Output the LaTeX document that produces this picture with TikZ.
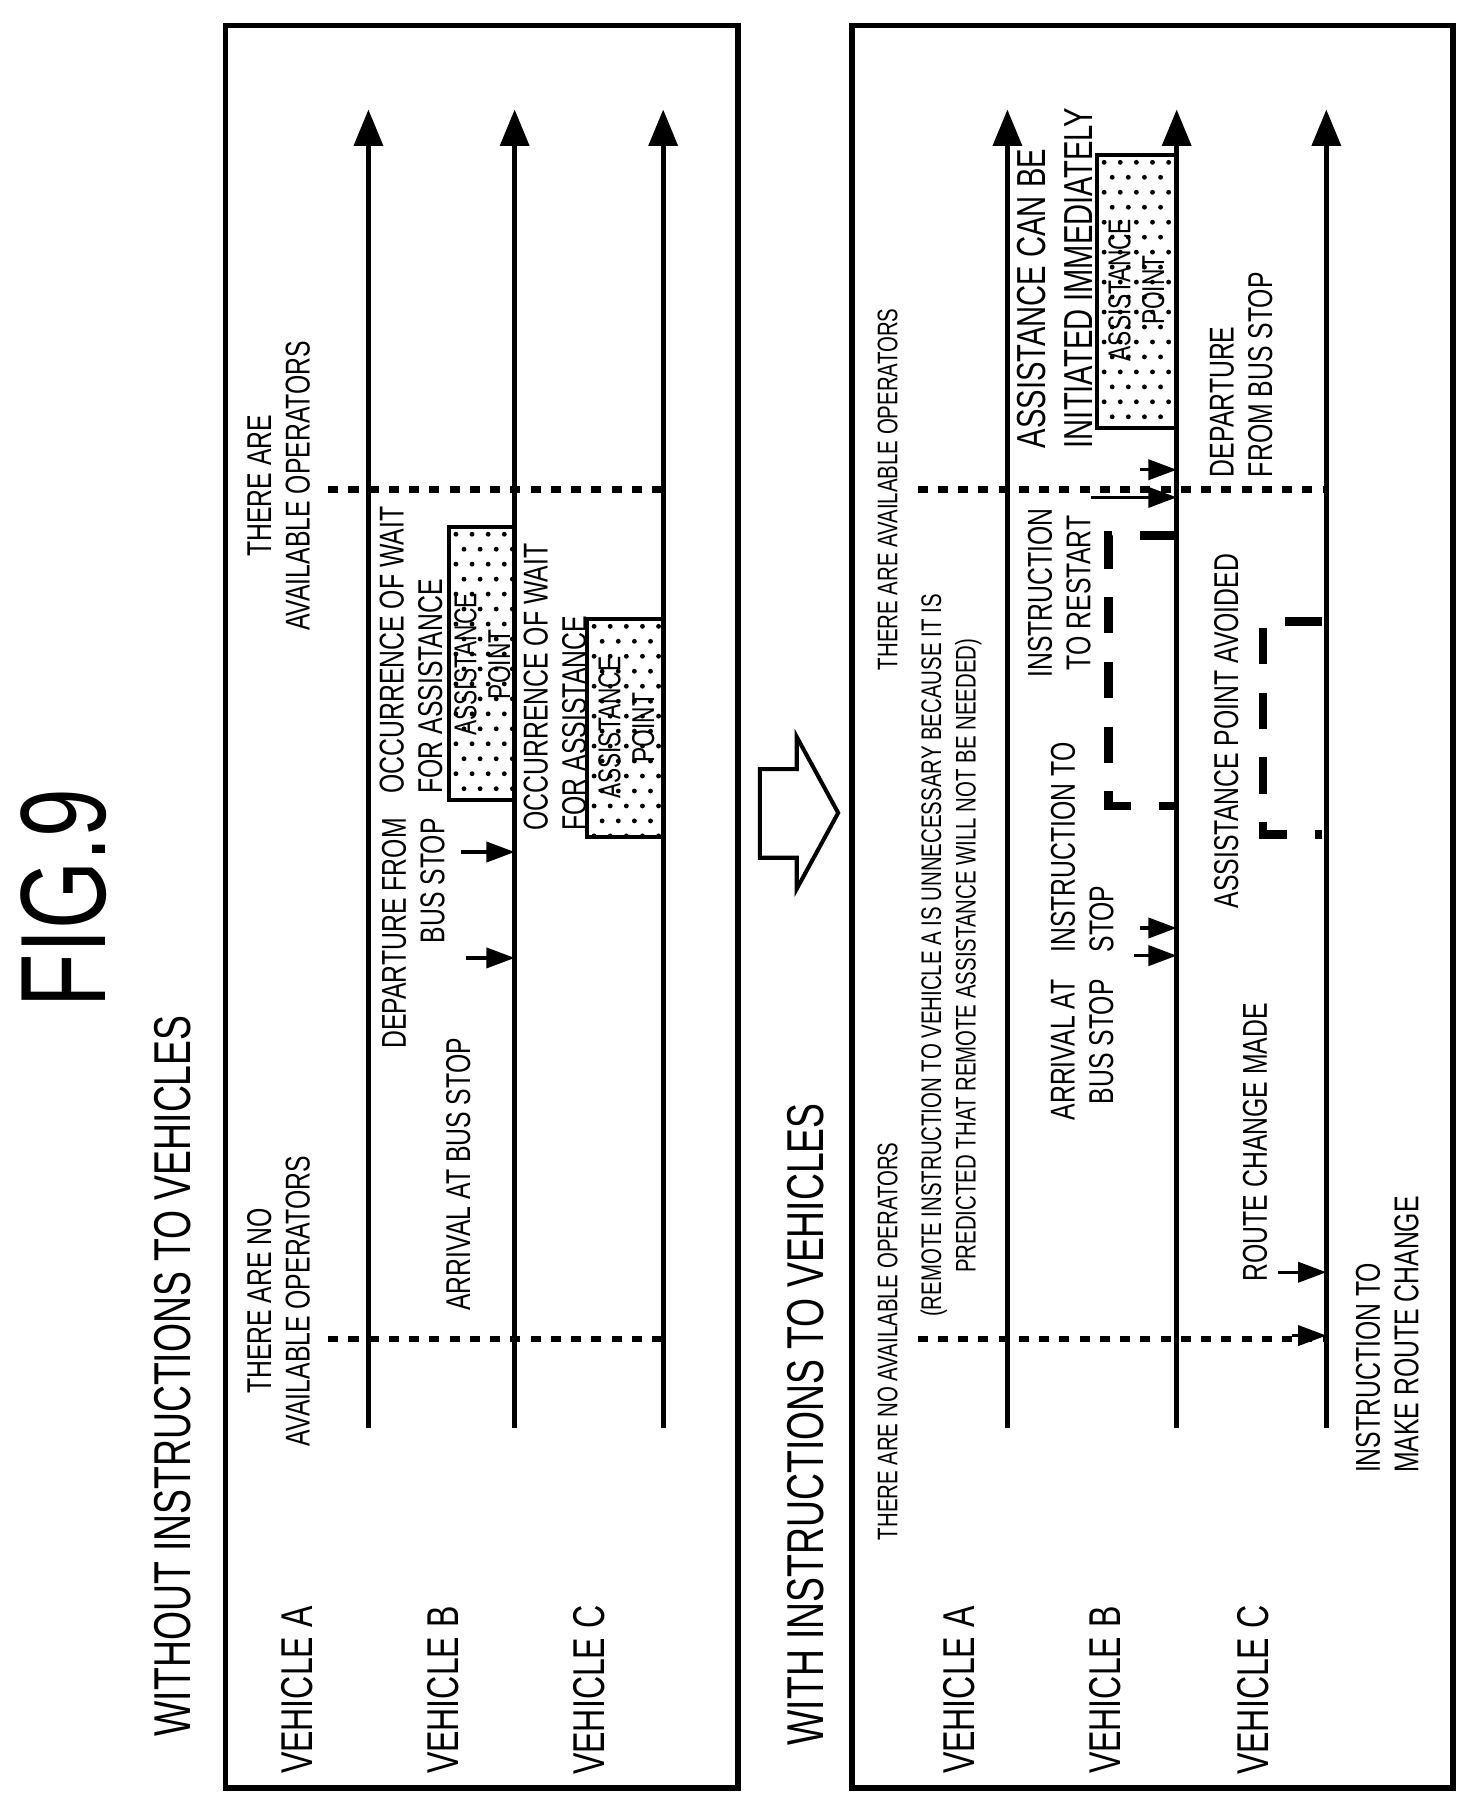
\documentclass[tikz,border=0pt]{standalone}
\usepackage{fontspec}
\setmainfont{Liberation Sans}[FakeStretch=0.72]
\usetikzlibrary{arrows.meta}
\begin{document}
\begin{tikzpicture}[x=0.01cm,y=-0.01cm,
  lbl/.style={rotate=90,inner sep=0pt,font=\fontsize{8.5}{9.5}\selectfont},
  box/.style={rotate=90,inner sep=0pt,font=\fontsize{7.8}{8.3}\selectfont},
  sml/.style={rotate=90,inner sep=0pt,font=\fontsize{7}{8.5}\selectfont},
  veh/.style={rotate=90,inner sep=0pt,font=\fontsize{11}{12}\selectfont},
  ttl/.style={rotate=90,inner sep=0pt,font=\fontsize{12.8}{13}\selectfont},
  tl/.style={line width=1.3pt,-{Triangle[length=9pt,width=7pt]}},
  ev/.style={line width=0.8pt,-{Triangle[length=7pt,width=5pt]}},
  dotl/.style={line width=1.6pt,dash pattern=on 2.5pt off 2.5pt},
  dsh/.style={line width=2.2pt,dash pattern=on 9pt off 7pt},
  frame/.style={line width=1.3pt}]
\useasboundingbox (0,0) rectangle (1280,1566);
\newcommand{\mydots}[4]{%
  \begin{scope}
  \clip (#1,#2) rectangle (#3,#4);
  \foreach \i in {0,...,12}{\foreach \j in {0,...,30}{%
    \fill ({#1+6+\i*14+mod(\j,2)*7},{#2+6+\j*13}) circle (0.6pt);}}
  \end{scope}}
\node[rotate=90,font=\fontsize{30}{30}\selectfont] (fig) at (55,780) {FIG.9};
% ---- left panel
\draw[frame] (196,22) rectangle (641,1553);
\node[ttl] (t1) at (150,1195) {WITHOUT INSTRUCTIONS TO VEHICLES};
\node[veh] (va1) at (258,1468) {VEHICLE A};
\node[veh] (vb1) at (385,1468) {VEHICLE B};
\node[veh] (vc1) at (512,1468) {VEHICLE C};
\foreach \n/\x in {a/320,b/447,c/576}{
  \coordinate (s\n1) at (\x,1240); \coordinate (e\n1) at (\x,95);
  \draw[tl] (s\n1) -- (e\n1);}
\coordinate (d1a) at (285,1163); \coordinate (d1b) at (576,1163);
\coordinate (d2a) at (285,425); \coordinate (d2b) at (580,425);
\draw[dotl] (d1a) -- (d1b); \draw[dotl] (d2a) -- (d2b);
\node[lbl,align=center] (no1) at (242,1130) {THERE ARE NO\\AVAILABLE OPERATORS};
\node[lbl,align=center] (av1) at (242,422) {THERE ARE\\AVAILABLE OPERATORS};
\node[lbl] (arr1) at (398,1020) {ARRIVAL AT BUS STOP};
\node[lbl,align=right,anchor=east] (dep1) at (359,710) {DEPARTURE FROM\\BUS STOP};
\coordinate (p1) at (405,832); \coordinate (q1) at (447,832);
\coordinate (p2) at (400,740); \coordinate (q2) at (447,740);
\draw[ev] (p1) -- (q1); \draw[ev] (p2) -- (q2);
\mydots{390}{458}{447}{695}
\draw[line width=1pt] (447,458) -- (390,458) -- (390,695) -- (447,695);
\node[box,align=center] (ap1) at (419,577) {ASSISTANCE\\POINT};
\node[lbl,align=left,anchor=west] (oc1) at (357,690) {OCCURRENCE OF WAIT\\FOR ASSISTANCE};
\mydots{510}{538}{576}{727}
\draw[line width=1pt] (576,538) -- (510,538) -- (510,727) -- (576,727);
\node[box,align=center] (ap2) at (544,632) {ASSISTANCE\\POINT};
\node[lbl,align=left,anchor=west] (oc2) at (482,722) {OCCURRENCE OF WAIT\\FOR ASSISTANCE};
% ---- block arrow
\draw[line width=1pt] (660,745) -- (660,668) -- (692,668) -- (692,640) -- (728,706) -- (692,772) -- (692,745) -- cycle;
% ---- right panel
\draw[frame] (740,22) rectangle (1262,1553);
\node[ttl] (t2) at (700,1237) {WITH INSTRUCTIONS TO VEHICLES};
\node[veh] (va2) at (833,1468) {VEHICLE A};
\node[veh] (vb2) at (960,1468) {VEHICLE B};
\node[veh] (vc2) at (1088,1468) {VEHICLE C};
\foreach \n/\x in {a/875,b/1022,c/1152}{
  \coordinate (s\n2) at (\x,1240); \coordinate (e\n2) at (\x,95);
  \draw[tl] (s\n2) -- (e\n2);}
\coordinate (d3a) at (797,1163); \coordinate (d3b) at (1150,1163);
\coordinate (d4a) at (797,425); \coordinate (d4b) at (1150,425);
\draw[dotl] (d3a) -- (d3b); \draw[dotl] (d4a) -- (d4b);
\node[sml] (no2) at (771,1165) {THERE ARE NO AVAILABLE OPERATORS};
\node[sml,align=center] (rem) at (826,830) {(REMOTE INSTRUCTION TO VEHICLE A IS UNNECESSARY BECAUSE IT IS\\PREDICTED THAT REMOTE ASSISTANCE WILL NOT BE NEEDED)};
\node[sml] (av2) at (771,425) {THERE ARE AVAILABLE OPERATORS};
\node[lbl,align=right,anchor=east] (arr2) at (940,850) {ARRIVAL AT\\BUS STOP};
\node[lbl,align=left,anchor=west] (ist) at (940,828) {INSTRUCTION TO\\STOP};
\coordinate (p3) at (985,830); \coordinate (q3) at (1022,830);
\coordinate (p4) at (990,806); \coordinate (q4) at (1022,806);
\draw[ev] (p3) -- (q3); \draw[ev] (p4) -- (q4);
\node[lbl,align=center] (irs) at (920,515) {INSTRUCTION\\TO RESTART};
\coordinate (p5) at (948,432); \coordinate (q5) at (1022,432);
\coordinate (p6) at (990,408); \coordinate (q6) at (1022,408);
\draw[ev] (p5) -- (q5); \draw[ev] (p6) -- (q6);
\node[rotate=90,inner sep=0pt,font=\fontsize{10}{11.5}\selectfont,align=left,anchor=west] (cbi) at (916,390) {ASSISTANCE CAN BE\\INITIATED IMMEDIATELY};
\mydots{953}{135}{1022}{372}
\draw[line width=1pt] (1022,135) -- (953,135) -- (953,372) -- (1022,372);
\node[box,align=center] (ap3) at (987,252) {ASSISTANCE\\POINT};
\node[lbl,align=left,anchor=west] (dep2) at (1078,415) {DEPARTURE\\FROM BUS STOP};
\draw[dsh] (1022,465) -- (963,465) -- (963,700) -- (1022,700);
\draw[dsh] (1148,540) -- (1097,540) -- (1097,725) -- (1148,725);
\node[lbl] (apa) at (1065,635) {ASSISTANCE POINT AVOIDED};
\node[lbl] (rcm) at (1090,992) {ROUTE CHANGE MADE};
\coordinate (p7) at (1110,1105); \coordinate (q7) at (1152,1105);
\coordinate (p8) at (1122,1160); \coordinate (q8) at (1152,1160);
\draw[ev] (p7) -- (q7); \draw[ev] (p8) -- (q8);
\node[lbl,align=left,anchor=west] (imr) at (1205,1280) {INSTRUCTION TO\\MAKE ROUTE CHANGE};
\end{tikzpicture}
\end{document}
